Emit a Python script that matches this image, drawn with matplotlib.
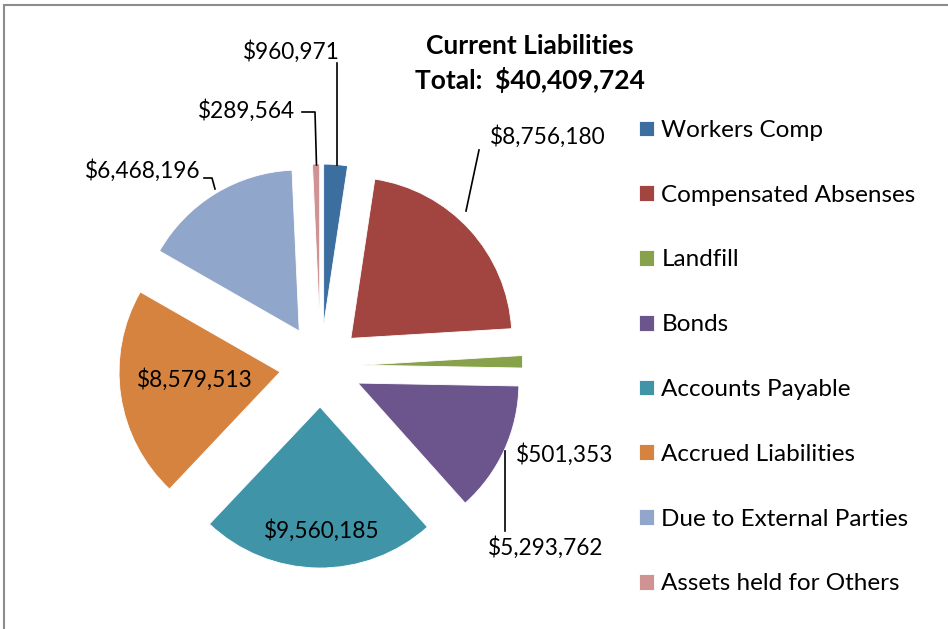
import matplotlib
matplotlib.use("Agg")
import matplotlib.pyplot as plt
from matplotlib.patches import Rectangle

categories = ["Workers Comp", "Compensated Absenses", "Landfill", "Bonds",
              "Accounts Payable", "Accrued Liabilities", "Due to External Parties",
              "Assets held for Others"]
values = [960971, 8756180, 501353, 5293762, 9560185, 8579513, 6468196, 289564]
colors = ["#3D6EA0", "#A24541", "#87A24B", "#6C558C",
          "#4094A8", "#D6833F", "#91A6CB", "#D09393"]
title_lines = ["Current Liabilities", "Total:  $40,409,724"]

W, H = 948, 629
plt.rcParams['font.family'] = ['Lato', 'DejaVu Sans']
fig = plt.figure(figsize=(W / 100, H / 100), dpi=100)
ax = fig.add_axes([0, 0, 1, 1])

def py(y):
    return H - y

# chart border (only top and left edges visible)
fig.patches.append(Rectangle((4 / W, -0.1), 1.2, (H - 5) / H + 0.1, transform=fig.transFigure,
                             fill=False, edgecolor="#8C8C8C", linewidth=1.5))

center = (320.6, py(366))
radius = 161
explode = [41] * len(values)
wedges, _ = ax.pie(values, colors=colors, startangle=90, counterclock=False,
                   radius=radius, center=center, explode=explode, frame=True,
                   wedgeprops=dict(linewidth=0.6, edgecolor='white'))
ax.set_xlim(0, W)
ax.set_ylim(0, H)
ax.set_aspect('equal')
ax.axis('off')

fs = 16.3
fs_leg = 17.5
fs_title = 19

def money(v):
    return "${:,}".format(v)

# data labels with leader lines (pixel layout)
lab = dict(fontsize=fs, color='black')
ax.text(291, py(52), money(values[0]), ha='center', va='center', **lab)
ax.plot([337, 337], [py(63), py(165)], color='black', lw=1.2)

ax.text(247, py(111), money(values[7]), ha='center', va='center', **lab)
ax.plot([302, 315, 316.5], [py(112), py(112), py(165)], color='black', lw=1.2)

ax.text(143, py(171), money(values[6]), ha='center', va='center', **lab)
ax.plot([204, 212, 215], [py(178), py(178), py(189)], color='black', lw=1.2)

ax.text(548, py(137), money(values[1]), ha='center', va='center', **lab)
ax.plot([479, 466], [py(150), py(211)], color='black', lw=1.2)

ax.text(565, py(455), money(values[2]), ha='center', va='center', **lab)

ax.text(546, py(548), money(values[3]), ha='center', va='center', **lab)
ax.plot([505, 505], [py(451), py(531)], color='black', lw=1.2)

ax.text(322, py(531), money(values[4]), ha='center', va='center', **lab)
ax.text(195, py(380), money(values[5]), ha='center', va='center', **lab)

# title
ax.text(530, py(46), title_lines[0], ha='center', va='center', fontsize=fs_title, fontweight='bold')
ax.text(530, py(80), title_lines[1], ha='center', va='center', fontsize=fs_title, fontweight='bold')

leg = ax.legend(wedges, categories, loc='upper left', bbox_to_anchor=(639 / W, py(120) / H),
                bbox_transform=fig.transFigure, frameon=False, fontsize=fs_leg,
                handlelength=0.62, handleheight=0.62, handletextpad=0.3,
                labelspacing=1.80, borderaxespad=0, borderpad=0)

fig.savefig("out.png", dpi=100)
